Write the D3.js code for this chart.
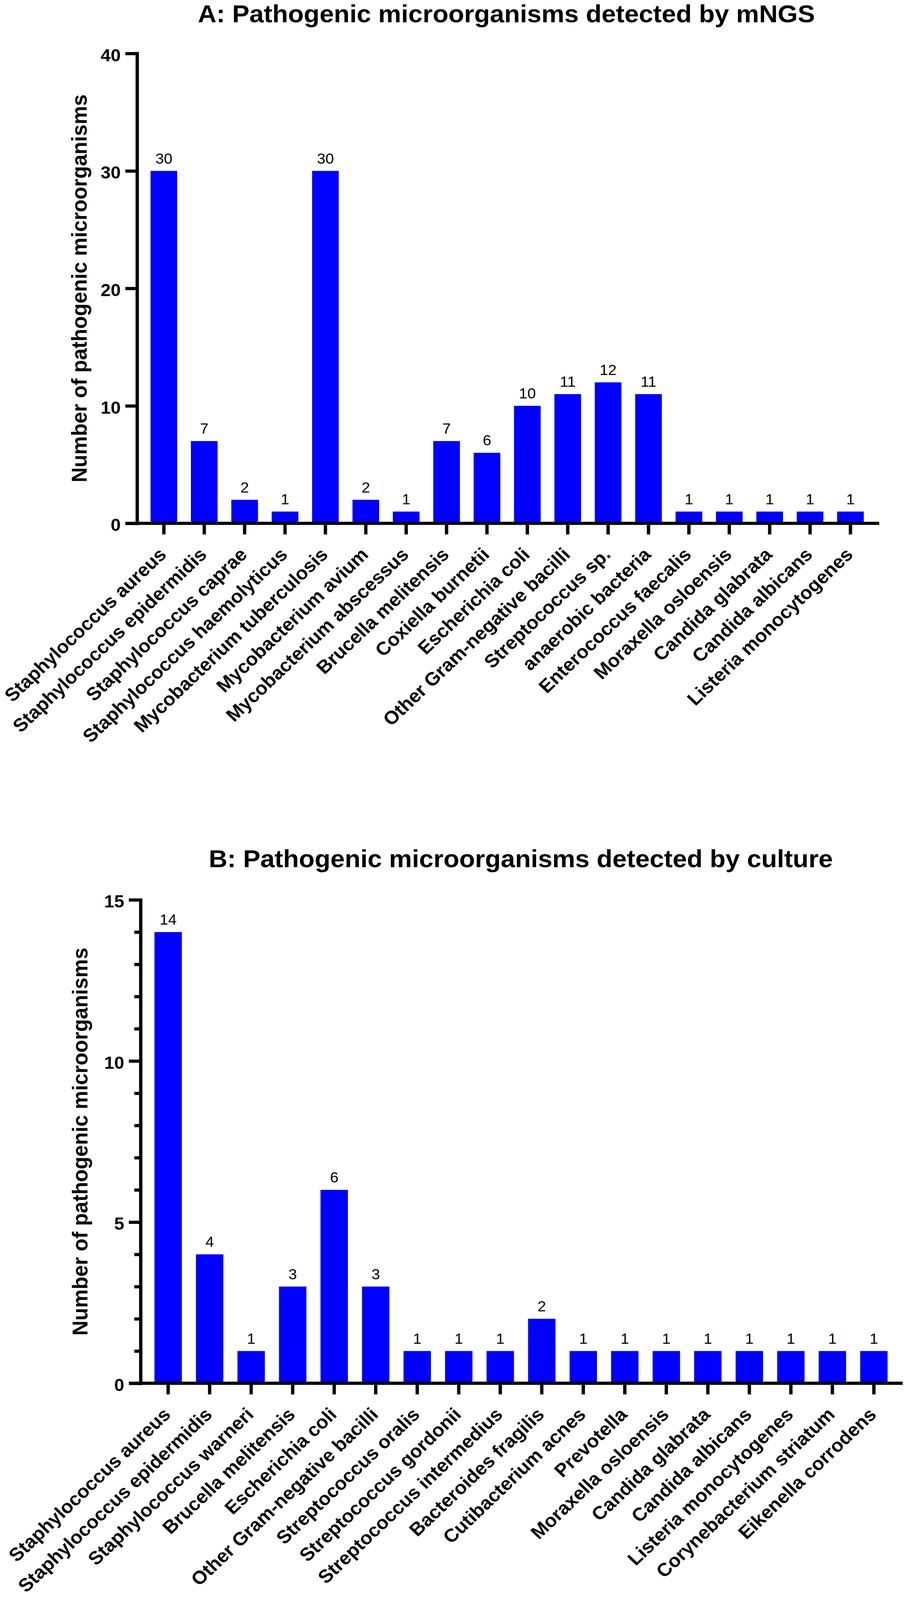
<!DOCTYPE html>
<html>
<head>
<meta charset="utf-8">
<script src="https://cdn.jsdelivr.net/npm/d3@7"></script>
<style>
  html, body { margin: 0; padding: 0; background: #ffffff; overflow: hidden; width: 100vw; height: 100vh; }
  svg { display: block; width: 100vw; height: 100vh; }
  text { font-family: "Liberation Sans", Arial, Helvetica, sans-serif; fill: #000; }
</style>
</head>
<body>
<svg id="chart" viewBox="0 0 2318 4311" preserveAspectRatio="none"></svg>
<script>
// ---------------- DATA ----------------
const titleA = "A: Pathogenic microorganisms detected by mNGS";
const titleB = "B: Pathogenic microorganisms detected by culture";
const yAxisTitle = "Number of pathogenic microorganisms";

const categoriesA = [
  "Staphylococcus aureus", "Staphylococcus epidermidis", "Staphylococcus caprae",
  "Staphylococcus haemolyticus", "Mycobacterium tuberculosis", "Mycobacterium avium",
  "Mycobacterium abscessus", "Brucella melitensis", "Coxiella burnetii",
  "Escherichia coli", "Other Gram-negative bacilli", "Streptococcus sp.",
  "anaerobic bacteria", "Enterococcus faecalis", "Moraxella osloensis",
  "Candida glabrata", "Candida albicans", "Listeria monocytogenes"
];
const valuesA = [30, 7, 2, 1, 30, 2, 1, 7, 6, 10, 11, 12, 11, 1, 1, 1, 1, 1];
const ticksA = [0, 10, 20, 30, 40];
const minorTicksA = [];

const categoriesB = [
  "Staphylococcus aureus", "Staphylococcus epidermidis", "Staphylococcus warneri",
  "Brucella melitensis", "Escherichia coli", "Other Gram-negative bacilli",
  "Streptococcus oralis", "Streptococcus gordonii", "Streptococcus intermedius",
  "Bacteroides fragilis", "Cutibacterium acnes", "Prevotella",
  "Moraxella osloensis", "Candida glabrata", "Candida albicans",
  "Listeria monocytogenes", "Corynebacterium striatum", "Eikenella corrodens"
];
const valuesB = [14, 4, 1, 3, 6, 3, 1, 1, 1, 2, 1, 1, 1, 1, 1, 1, 1, 1];
const ticksB = [0, 5, 10, 15];
const minorTicksB = [1, 2, 3, 4, 6, 7, 8, 9, 11, 12, 13, 14];

// ---------------- LAYOUT ----------------
const BAR_COLOR = "#0000ff";
const AXIS_W = 8.5;

const panels = [
  { title: titleA, cats: categoriesA, vals: valuesA, ticks: ticksA, minor: minorTicksA,
    titleX: 1297, titleY: 60, axisX: 351, yTop: 144, yBottom: 1410,
    bandL: 368, bandR: 2230, axisEnd: 2252, yTitleX: 222 },
  { title: titleB, cats: categoriesB, vals: valuesB, ticks: ticksB, minor: minorTicksB,
    titleX: 1334, titleY: 2337, axisX: 360, yTop: 2424.5, yBottom: 3727,
    bandL: 377.5, bandR: 2291.5, axisEnd: 2312, yTitleX: 224 }
];

const svg = d3.select("#chart");
svg.append("rect").attr("width", 2318).attr("height", 4311).attr("fill", "#fff");

panels.forEach(p => {
  const g = svg.append("g");
  const yMax = d3.max(p.ticks);

  const x = d3.scaleBand()
    .domain(p.cats)
    .range([p.bandL, p.bandR])
    .paddingInner(0.34)
    .paddingOuter(0.17);

  const y = d3.scaleLinear()
    .domain([0, yMax])
    .range([p.yBottom, p.yTop]);

  // Title
  g.append("text")
    .attr("x", p.titleX)
    .attr("y", p.titleY)
    .attr("text-anchor", "middle")
    .attr("font-size", 66)
    .attr("font-weight", "bold")
    .text(p.title);

  // Y axis title
  g.append("text")
    .attr("transform", `translate(${p.yTitleX},${(p.yTop + p.yBottom) / 2}) rotate(-90)`)
    .attr("text-anchor", "middle")
    .attr("font-size", 56)
    .attr("font-weight", "bold")
    .text(yAxisTitle);

  // Bars
  g.append("g").selectAll("rect")
    .data(p.vals)
    .join("rect")
    .attr("x", (d, i) => x(p.cats[i]))
    .attr("y", d => y(d))
    .attr("width", x.bandwidth())
    .attr("height", d => y(0) - y(d))
    .attr("fill", BAR_COLOR);

  // Value labels
  g.append("g").selectAll("text")
    .data(p.vals)
    .join("text")
    .attr("x", (d, i) => x(p.cats[i]) + x.bandwidth() / 2)
    .attr("y", d => y(d) - 20)
    .attr("text-anchor", "middle")
    .attr("font-size", 39)
    .text(d => d);

  // Minor Y ticks
  if (p.minor.length) {
    const minorAxis = d3.axisLeft(y).tickValues(p.minor).tickSize(16).tickFormat("").tickSizeOuter(0);
    const mg = g.append("g").attr("transform", `translate(${p.axisX},0)`).call(minorAxis);
    mg.select(".domain").remove();
    mg.selectAll(".tick line").attr("stroke", "#000").attr("stroke-width", AXIS_W);
  }

  // Major Y axis
  const yAxis = d3.axisLeft(y).tickValues(p.ticks).tickSize(30).tickPadding(12).tickSizeOuter(0);
  const yg = g.append("g").attr("transform", `translate(${p.axisX},0)`).call(yAxis);
  yg.select(".domain")
    .attr("stroke", "#000").attr("stroke-width", AXIS_W)
    .attr("stroke-linecap", "square");
  yg.selectAll(".tick line").attr("stroke", "#000").attr("stroke-width", AXIS_W);
  yg.selectAll(".tick text")
    .attr("font-family", null)
    .attr("font-size", 46)
    .attr("font-weight", "bold")
    .attr("fill", "#000")
    .attr("dy", "0.44em");

  // X axis ticks and labels
  const xAxis = d3.axisBottom(x).tickSize(30).tickSizeOuter(0);
  const xg = g.append("g").attr("transform", `translate(0,${y(0)})`).call(xAxis);
  xg.select(".domain").remove();
  xg.selectAll(".tick line").attr("stroke", "#000").attr("stroke-width", AXIS_W);
  xg.selectAll(".tick text")
    .attr("font-family", null)
    .attr("font-size", 50)
    .attr("font-weight", "bold")
    .attr("fill", "#000")
    .attr("x", 0).attr("y", 0)
    .attr("dy", "0.26em")
    .attr("text-anchor", "end")
    .attr("transform", "translate(0,78) rotate(-45)");

  // X baseline
  g.append("line")
    .attr("x1", p.axisX - 30)
    .attr("x2", p.axisEnd)
    .attr("y1", y(0))
    .attr("y2", y(0))
    .attr("stroke", "#000")
    .attr("stroke-width", AXIS_W);
});
</script>
</body>
</html>
